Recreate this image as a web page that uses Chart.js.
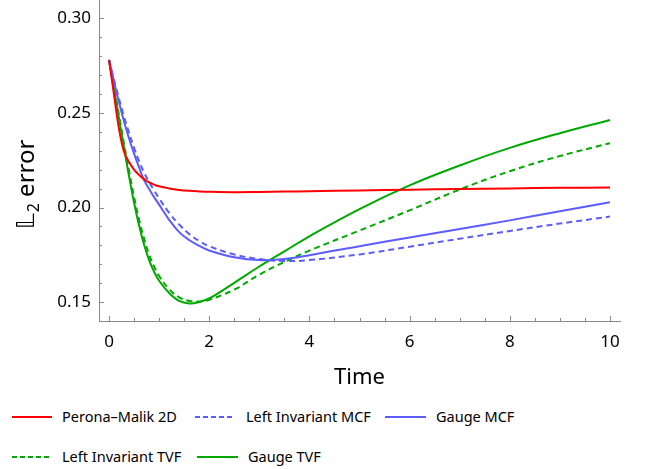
<!DOCTYPE html>
<html>
<head>
<meta charset="utf-8">
<script src="https://cdn.jsdelivr.net/npm/chart.js@4.4.1/dist/chart.umd.min.js"></script>
<style>
  body { margin: 0; background: #fff; }
  #wrap { position: relative; width: 646px; height: 469px; font-family: "Noto Sans", sans-serif; }
  #errChart { position: absolute; left: 0; top: 0; }
  .lgText { position: absolute; font-size: 14.5px; line-height: 20px; color: #000; white-space: nowrap; }
  .lgLine { position: absolute; }
</style>
</head>
<body>
<div id="wrap">
  <canvas id="errChart" width="646" height="400"></canvas>
  <div id="legend"></div>
</div>
<script>
const times = [0, 0.1, 0.2, 0.3, 0.4, 0.5, 0.6, 0.7, 0.8, 0.9, 1.0, 1.2, 1.4, 1.6, 1.8, 2.0, 2.5, 3, 3.5, 4, 5, 6, 7, 8, 9, 10];

const peronaMalik = [0.278, 0.2595, 0.2415, 0.2295, 0.224, 0.22, 0.2172, 0.215, 0.2133, 0.2121, 0.2112, 0.2101, 0.2093, 0.2088, 0.2085, 0.2083, 0.2081, 0.2082, 0.2084, 0.2086, 0.209, 0.2094, 0.2098, 0.2101, 0.2104, 0.2106];
const leftInvMCF  = [0.278, 0.2675, 0.2575, 0.248, 0.2395, 0.2315, 0.2245, 0.2185, 0.2135, 0.209, 0.2048, 0.1972, 0.191, 0.186, 0.1823, 0.1795, 0.1752, 0.1728, 0.1717, 0.1722, 0.1752, 0.1793, 0.1835, 0.1876, 0.1915, 0.1952];
const gaugeMCF    = [0.278, 0.2665, 0.2555, 0.2455, 0.2365, 0.2285, 0.2212, 0.2145, 0.2098, 0.2055, 0.2015, 0.1935, 0.187, 0.1828, 0.1797, 0.1773, 0.1737, 0.1722, 0.1728, 0.1748, 0.1795, 0.1842, 0.1886, 0.1932, 0.198, 0.2028];
const leftInvTVF  = [0.278, 0.2635, 0.2485, 0.2335, 0.2192, 0.2055, 0.1935, 0.1835, 0.1752, 0.1688, 0.1638, 0.1568, 0.1525, 0.1506, 0.1503, 0.1512, 0.1566, 0.1645, 0.1712, 0.1772, 0.1878, 0.1985, 0.2095, 0.2192, 0.2272, 0.234];
const gaugeTVF    = [0.278, 0.2625, 0.247, 0.2315, 0.2165, 0.2025, 0.1905, 0.1803, 0.1722, 0.166, 0.1613, 0.1548, 0.1506, 0.1493, 0.15, 0.1519, 0.1602, 0.1688, 0.1768, 0.1848, 0.1992, 0.2117, 0.2222, 0.2315, 0.2393, 0.2463];

const seriesNames = ['Perona\u2013Malik 2D', 'Left Invariant MCF', 'Gauge MCF', 'Left Invariant TVF', 'Gauge TVF'];
const seriesColors = ['#ff0000', '#5c5cff', '#5c5cff', '#00a800', '#00a800'];
const seriesDashed = [false, true, false, true, false];

const xTicks = [0, 2, 4, 6, 8, 10];
const yTicks = [0.15, 0.20, 0.25, 0.30];

const allSeries = [peronaMalik, leftInvMCF, gaugeMCF, leftInvTVF, gaugeTVF];
const DASH = [6, 4];
const AXIS_GRAY = '#8a8a8a';

// tick marks drawn inward (Mathematica style), plus the y axis title
const innerTicks = {
    id: 'innerTicks',
    beforeDatasetsDraw(chart) {
        const ctx = chart.ctx;
        const xs = chart.scales.x, ys = chart.scales.y;
        const area = chart.chartArea;
        ctx.save();
        ctx.strokeStyle = AXIS_GRAY;
        ctx.lineWidth = 1;
        ctx.beginPath();
        for (let i = 0; i <= 20; i++) {
            const v = i * 0.5;
            const px = Math.round(xs.getPixelForValue(v)) + 0.5;
            const len = (i % 4 === 0) ? 5 : 3;
            ctx.moveTo(px, area.bottom);
            ctx.lineTo(px, area.bottom - len);
        }
        for (let i = 15; i <= 30; i++) {
            const v = i / 100;
            const py = Math.round(ys.getPixelForValue(v)) + 0.5;
            const len = (i % 5 === 0) ? 5 : 3;
            ctx.moveTo(area.left, py);
            ctx.lineTo(area.left + len, py);
        }
        ctx.stroke();
        ctx.restore();
    },
    afterDraw(chart) {
        const ctx = chart.ctx;
        ctx.save();
        ctx.translate(34, 229);
        ctx.rotate(-Math.PI / 2);
        ctx.fillStyle = '#000';
        ctx.textBaseline = 'alphabetic';
        ctx.font = '24px "DejaVu Sans", "Noto Sans", sans-serif';
        ctx.fillText('\u{1D543}', 0, 0);
        let w = ctx.measureText('\u{1D543}').width;
        ctx.font = '16px "Noto Sans", sans-serif';
        ctx.fillText('2', w + 1, 5);
        w += 1 + ctx.measureText('2').width;
        ctx.font = '24px "Noto Sans", sans-serif';
        ctx.fillText(' error', w, 0);
        ctx.restore();
    }
};

const datasets = allSeries.map((vals, i) => ({
    label: seriesNames[i],
    data: times.map((t, k) => ({ x: t, y: vals[k] })),
    borderColor: seriesColors[i],
    borderWidth: 2,
    borderDash: seriesDashed[i] ? DASH : [],
    pointRadius: 0,
    fill: false,
    tension: 0.4
}));

new Chart(document.getElementById('errChart').getContext('2d'), {
    type: 'line',
    data: { datasets: datasets },
    options: {
        responsive: false,
        animation: false,
        layout: { padding: { left: 0, right: 26, top: 0, bottom: 0 } },
        plugins: {
            legend: { display: false },
            tooltip: { enabled: false }
        },
        scales: {
            x: {
                type: 'linear',
                min: -0.2,
                max: 10.2,
                grid: { display: false, drawTicks: false },
                border: { display: true, color: AXIS_GRAY, width: 1 },
                afterBuildTicks: (scale) => { scale.ticks = xTicks.map(v => ({ value: v })); },
                afterFit: (scale) => { scale.height = 79; scale.paddingLeft = 0; scale.paddingRight = 0; },
                ticks: {
                    color: '#000',
                    padding: 11,
                    maxRotation: 0,
                    font: { family: 'Noto Sans', size: 17 },
                    callback: (v) => String(v)
                },
                title: {
                    display: true,
                    text: 'Time',
                    color: '#000',
                    font: { family: 'Noto Sans', size: 22 },
                    padding: { top: 0, bottom: 9 }
                }
            },
            y: {
                type: 'linear',
                min: 0.14,
                max: 0.3097,
                grid: { display: false, drawTicks: false },
                border: { display: true, color: AXIS_GRAY, width: 1 },
                afterBuildTicks: (scale) => { scale.ticks = yTicks.map(v => ({ value: v })); },
                afterFit: (scale) => { scale.width = 99; scale.paddingTop = 0; scale.paddingBottom = 0; },
                ticks: {
                    color: '#000',
                    padding: 8,
                    font: { family: 'Noto Sans', size: 17 },
                    callback: (v) => v.toFixed(2)
                }
            }
        }
    },
    plugins: [innerTicks]
});

// legend below the plot, two rows like the original
const legendPos = [
    { line: 12, w: 40, text: 62, y: 417 },
    { line: 195, w: 38, text: 246, y: 417 },
    { line: 385, w: 41, text: 436, y: 417 },
    { line: 12, w: 38, text: 62, y: 457 },
    { line: 197, w: 41, text: 248, y: 457 }
];
const legendEl = document.getElementById('legend');
legendPos.forEach((p, i) => {
    const svg = document.createElementNS('http://www.w3.org/2000/svg', 'svg');
    svg.setAttribute('class', 'lgLine');
    svg.setAttribute('width', p.w);
    svg.setAttribute('height', 4);
    svg.style.left = p.line + 'px';
    svg.style.top = (p.y - 2) + 'px';
    const ln = document.createElementNS('http://www.w3.org/2000/svg', 'line');
    ln.setAttribute('x1', 0); ln.setAttribute('x2', p.w);
    ln.setAttribute('y1', 2); ln.setAttribute('y2', 2);
    ln.setAttribute('stroke', seriesColors[i]);
    ln.setAttribute('stroke-width', 2);
    if (seriesDashed[i]) ln.setAttribute('stroke-dasharray', '5 3');
    svg.appendChild(ln);
    legendEl.appendChild(svg);
    const tx = document.createElement('div');
    tx.className = 'lgText';
    tx.textContent = seriesNames[i];
    tx.style.left = p.text + 'px';
    tx.style.top = (p.y - 11) + 'px';
    legendEl.appendChild(tx);
});
</script>
</body>
</html>
